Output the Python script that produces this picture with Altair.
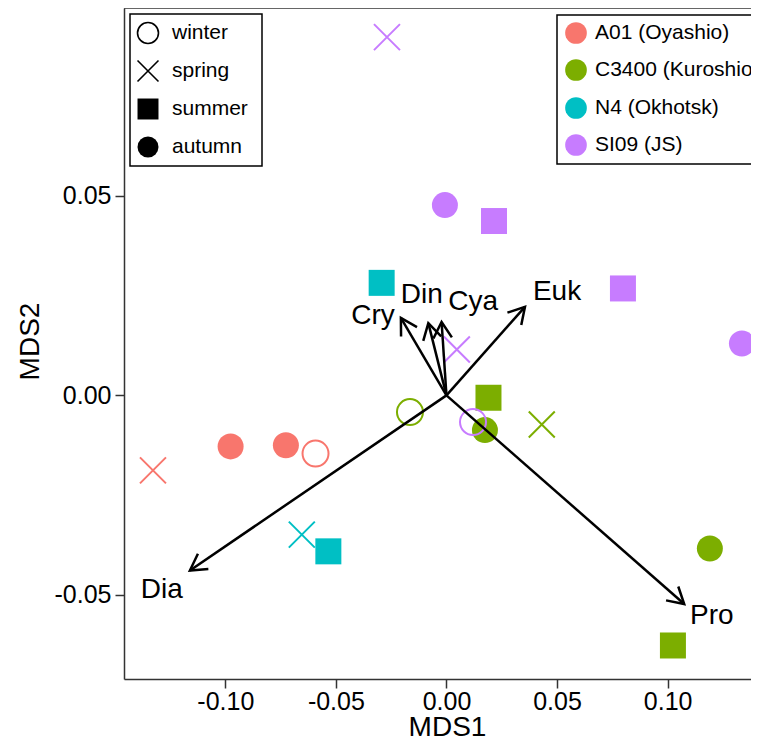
import altair as alt
import numpy as np
import pandas as pd

# ---------------- data ----------------
stations = ["A01 (Oyashio)", "C3400 (Kuroshio)", "N4 (Okhotsk)", "SI09 (JS)"]
station_colors = ["#F8766D", "#7CAE00", "#00BFC4", "#C77CFF"]
seasons = ["winter", "spring", "summer", "autumn"]
season_shapes = ["circle", "M-1,-1L1,1M1,-1L-1,1", "square", "circle"]
season_filled = [False, False, True, True]

pt_station = (["A01 (Oyashio)"] * 4 + ["N4 (Okhotsk)"] * 3
              + ["C3400 (Kuroshio)"] * 6 + ["SI09 (JS)"] * 7)
pt_season = ["spring", "autumn", "autumn", "winter",
             "spring", "summer", "summer",
             "winter", "summer", "autumn", "spring", "autumn", "summer",
             "spring", "autumn", "summer", "summer", "autumn", "spring", "winter"]
pt_mds1 = [-0.1327, -0.0976, -0.0726, -0.0592,
           -0.0654, -0.0534, -0.0293,
           -0.0165, 0.0190, 0.0174, 0.0431, 0.1191, 0.1024,
           -0.0269, -0.0007, 0.0215, 0.0798, 0.1336, 0.0047, 0.0120]
pt_mds2 = [-0.0188, -0.0128, -0.0125, -0.0146,
           -0.0349, -0.0391, 0.0282,
           -0.0042, -0.0006, -0.0087, -0.0073, -0.0384, -0.0627,
           0.0898, 0.0477, 0.0437, 0.0268, 0.0130, 0.0115, -0.0067]

taxa = ["Dia", "Cry", "Din", "Cya", "Euk", "Pro"]
arrow_mds1 = [-0.1160, -0.0206, -0.0082, -0.0022, 0.0355, 0.1075]
arrow_mds2 = [-0.0439, 0.0194, 0.0181, 0.0184, 0.0222, -0.0523]
label_mds1 = [-0.1287, -0.0332, -0.0112, 0.0121, 0.0500, 0.1200]
label_mds2 = [-0.0489, 0.0200, 0.0251, 0.0234, 0.0260, -0.0554]

x_ticks = [-0.10, -0.05, 0.0, 0.05, 0.10]
y_ticks = [-0.05, 0.0, 0.05]

# ---------------- layout / style ----------------
W, H = 627, 671
XDOM = [-0.1458, 0.1377]
YDOM = [-0.0711, 0.0971]
FONT = "Liberation Sans"
AX = "#333333"

xs = alt.Scale(domain=XDOM, nice=False, zero=False)
ys = alt.Scale(domain=YDOM, nice=False, zero=False)
color_scale = alt.Scale(domain=stations, range=station_colors)
shape_scale = alt.Scale(domain=seasons, range=season_shapes)

label_expr = ("datum.value < 0 ? '-' + format(-datum.value, '.2f') "
              ": format(datum.value, '.2f')")

x_axis = alt.Axis(values=x_ticks, labelExpr=label_expr, grid=False,
                  labelFont=FONT, labelFontSize=25, labelColor="black",
                  labelPadding=1, labelFlush=False, labelOverlap=False,
                  tickColor=AX, tickWidth=1.5, tickSize=9,
                  domainColor=AX, domainWidth=1.5,
                  titleFont=FONT, titleFontSize=28, titleFontWeight="normal",
                  titleColor="black", titleX=323, titleY=56,
                  titleAlign="center", titleBaseline="alphabetic")
y_axis = alt.Axis(values=y_ticks, labelExpr=label_expr, grid=False,
                  labelFont=FONT, labelFontSize=25, labelColor="black",
                  labelPadding=4, labelFlush=False, labelOverlap=False,
                  tickColor=AX, tickWidth=1.5, tickSize=9,
                  domainColor=AX, domainWidth=1.5,
                  titleFont=FONT, titleFontSize=28, titleFontWeight="normal",
                  titleColor="black", titleX=-86, titleY=333,
                  titleAlign="center", titleBaseline="alphabetic")


def X(field):
    return alt.X(field, scale=xs, axis=x_axis, title="MDS1")


def Y(field):
    return alt.Y(field, scale=ys, axis=y_axis, title="MDS2")


pts = pd.DataFrame({"station": pt_station, "season": pt_season,
                    "mds1": pt_mds1, "mds2": pt_mds2})
open_pts = pts[pts["season"].isin(["winter", "spring"])]
filled_pts = pts[pts["season"].isin(["summer", "autumn"])]

kx = W / (XDOM[1] - XDOM[0])
ky = H / (YDOM[1] - YDOM[0])
arr = pd.DataFrame({"taxon": taxa, "mds1": arrow_mds1, "mds2": arrow_mds2,
                    "lab1": label_mds1, "lab2": label_mds2})
arr["x0"] = 0.0
arr["y0"] = 0.0
arr["ang"] = (np.degrees(np.arctan2(arr["mds1"] * kx, arr["mds2"] * ky)) + 360) % 360

PT_SIZE = 676

filled_layer = alt.Chart(filled_pts).mark_point(filled=True, opacity=1, size=PT_SIZE).encode(
    x=X("mds1:Q"), y=Y("mds2:Q"),
    color=alt.Color("station:N", scale=color_scale, legend=None),
    shape=alt.Shape("season:N", scale=shape_scale, legend=None),
)
open_layer = alt.Chart(open_pts).mark_point(filled=False, opacity=1, size=PT_SIZE,
                                            strokeWidth=2).encode(
    x=X("mds1:Q"), y=Y("mds2:Q"),
    color=alt.Color("station:N", scale=color_scale, legend=None),
    shape=alt.Shape("season:N", scale=shape_scale, legend=None),
)

shafts = alt.Chart(arr).mark_rule(color="black", strokeWidth=2.5).encode(
    x=X("x0:Q"), y=Y("y0:Q"), x2="mds1:Q", y2="mds2:Q",
)
heads = alt.Chart(arr).mark_point(
    shape="M-0.5,0.866L0,0L0.5,0.866", filled=False, size=1369,
    color="black", strokeWidth=2.5, opacity=1).encode(
    x=X("mds1:Q"), y=Y("mds2:Q"),
    angle=alt.Angle("ang:Q", scale=None),
)
arrow_labels = alt.Chart(arr).mark_text(
    font=FONT, fontSize=28, color="black", align="center", baseline="middle").encode(
    x=X("lab1:Q"), y=Y("lab2:Q"), text="taxon:N",
)

# ---------------- manual legends (inside the panel) ----------------
one = pd.DataFrame({"k": [0]})
legend_layers = [
    alt.Chart(one).mark_rect(fill="white", stroke="black", strokeWidth=1.5).encode(
        x=alt.value(6), x2=alt.value(138), y=alt.value(6), y2=alt.value(158)),
    alt.Chart(one).mark_rect(fill="white", stroke="black", strokeWidth=1.5).encode(
        x=alt.value(433), x2=alt.value(760), y=alt.value(7), y2=alt.value(156)),
]
season_rows_y = [25, 63, 101, 139]
for s, shp, fl, yy in zip(seasons, season_shapes, season_filled, season_rows_y):
    legend_layers.append(
        alt.Chart(one).mark_point(shape=shp, filled=fl, size=440, strokeWidth=1.6,
                                  color="black", opacity=1).encode(
            x=alt.value(24), y=alt.value(yy)))
    legend_layers.append(
        alt.Chart(one).mark_text(text=s, font=FONT, fontSize=21, color="black",
                                 align="left", baseline="middle").encode(
            x=alt.value(48), y=alt.value(yy)))
station_rows_y = [25, 62, 100, 137]
for st, col, yy in zip(stations, station_colors, station_rows_y):
    legend_layers.append(
        alt.Chart(one).mark_point(shape="circle", filled=True, size=470,
                                  color=col, opacity=1).encode(
            x=alt.value(452), y=alt.value(yy)))
    legend_layers.append(
        alt.Chart(one).mark_text(text=st, font=FONT, fontSize=21, color="black",
                                 align="left", baseline="middle").encode(
            x=alt.value(471), y=alt.value(yy)))

top_border = alt.Chart(one).mark_rule(color=AX, strokeWidth=1.5).encode(
    x=alt.value(0), x2=alt.value(W), y=alt.value(0))

chart = alt.layer(
    filled_layer, open_layer, shafts, heads, arrow_labels,
    *legend_layers, top_border,
).properties(
    width=W, height=H,
    autosize=alt.AutoSizeParams(type="none"),
    padding={"left": 116, "top": 0, "right": 0, "bottom": 58},
).configure_view(stroke=None)

chart.save("out.html", embed_options={"renderer": "svg", "actions": False})
